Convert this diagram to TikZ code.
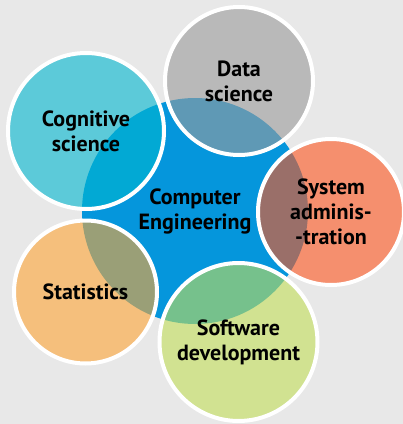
\documentclass[tikz,border=0pt]{standalone}
\usepackage{fontspec}
\setmainfont{PT Sans}
\usetikzlibrary{calc}
\definecolor{backgray}{RGB}{232,232,232}
\definecolor{coreblue}{RGB}{5,150,220}
\definecolor{datagray}{RGB}{155,155,155}
\definecolor{cogcyan}{RGB}{0,182,207}
\definecolor{sysorange}{RGB}{254,85,29}
\definecolor{statamber}{RGB}{254,165,52}
\definecolor{softgreen}{RGB}{194,222,87}
\tikzstyle{core}=[circle,fill=coreblue,inner sep=0pt,align=center,font=\bfseries\fontsize{22}{25}\selectfont]
\tikzstyle{topic}=[circle,draw=white,line width=4pt,fill opacity=0.6,text opacity=1,inner sep=0pt,align=center,font=\bfseries\fontsize{22}{25}\selectfont]

\begin{document}
\begin{tikzpicture}[x=1pt,y=-1pt]
\def \picw {403};
\def \pich {424};

\fill[backgray] (0,0) rectangle (\picw,\pich);
\useasboundingbox (0,0) rectangle (\picw,\pich);

\node[core,minimum size=226pt] (CE) at (195,211) {Computer\\Engineering};

\foreach \nm/\x/\y/\d/\col/\txt in {
    DS/239/81/148/datagray/{Data\\science},
    CS/86/131/156/cogcyan/{Cognitive\\science},
    SA/331/212/146/sysorange/{System\\adminis-\\-tration},
    ST/85.5/292/143/statamber/{Statistics},
    SD/238.5/342/158/softgreen/{Software\\development}} {
	\node[topic,fill=\col,minimum size=\d pt] (\nm) at (\x,\y) {\txt};
};

\end{tikzpicture}
\end{document}
